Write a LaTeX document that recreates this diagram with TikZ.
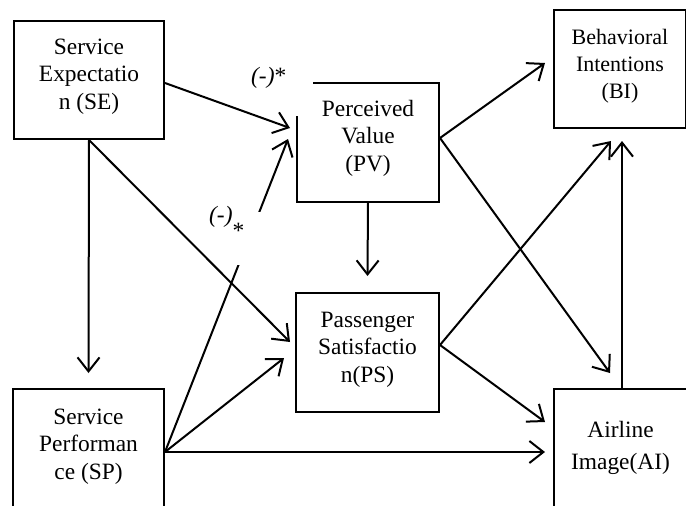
\documentclass[tikz,border=0pt]{standalone}
\usepackage{fontspec}
\setmainfont{Liberation Serif}
\usetikzlibrary{arrows.meta}
\newcommand\boxtxt[4]{\parbox[c][#1][t]{#2}{\centering\rule{0pt}{#3}#4}}
\begin{document}
\begin{tikzpicture}[x=1pt,y=-1pt,
  box/.style={draw, line width=2pt, inner sep=0pt, anchor=north west, font=\fontsize{23.4}{27.5}\selectfont},
  conn/.style={line width=2pt, -{Straight Barb[length=14pt,width=22pt,line width=2pt]}},
  lbl/.style={font=\fontsize{23.4}{27.5}\selectfont, inner sep=0pt, anchor=base west}]
\useasboundingbox (0,0) rectangle (686,506);
% boxes
\node[box] (SE) at (13,20) {\boxtxt{118pt}{150pt}{33pt}{Service\\Expectatio\\n (SE)}};
\node[box] (PV) at (296,82) {\boxtxt{119pt}{142pt}{33pt}{Perceived\\Value\\(PV)}};
\node[box, font=\fontsize{22}{27}\selectfont] (BI) at (553,9) {\boxtxt{118pt}{132pt}{34pt}{Behavioral\\Intentions\\(BI)}};
\node[box] (PS) at (295,292) {\boxtxt{119pt}{143pt}{34pt}{Passenger\\Satisfactio\\n(PS)}};
\node[box] (SP) at (12,388) {\boxtxt{140pt}{151pt}{35pt}{Service\\Performan\\ce (SP)}};
\node[box, font=\fontsize{23.4}{32}\selectfont] (AI) at (553,388) {\boxtxt{140pt}{133pt}{48pt}{Airline\\Image(AI)}};
% connector that is partly hidden by the lower label
\draw[conn] ([yshift=-64pt]SP.north east) -- ([xshift=-8pt,yshift=-57pt]PV.north west);
% labels with white backgrounds
\fill[white] (240,50) rectangle (313,116);
\node[lbl] (m1) at (251,83) {\textit{(-)}*};
\fill[white] (200,212) rectangle (262,265);
\node[lbl] (m2) at (209,222) {\textit{(-)}\raisebox{-16pt}{*}};
% connectors
\draw[conn] ([yshift=-63pt]SE.north east) -- ([xshift=-6pt,yshift=-46pt]PV.north west);
\draw[conn] (SE.south) -- ([yshift=15pt]SP.north);
\draw[conn] (SE.south) -- ([xshift=-5pt,yshift=-50pt]PS.north west);
\draw[conn] ([yshift=-64pt]SP.north east) -- ([xshift=-11pt,yshift=-66pt]PS.north west);
\draw[conn] ([yshift=-64pt]SP.north east) -- ([xshift=-8pt,yshift=-64pt]AI.north west);
\draw[conn] (PV.south) -- ([yshift=16pt]PS.north);
\draw[conn] ([yshift=-56pt]PV.north east) -- ([xshift=-8pt,yshift=-54pt]BI.north west);
\draw[conn] ([yshift=-56pt]PV.north east) -- ([xshift=57pt,yshift=15pt]AI.north west);
\draw[conn] ([yshift=-53pt]PS.north east) -- ([xshift=58pt,yshift=-12pt]BI.south west);
\draw[conn] ([yshift=-53pt]PS.north east) -- ([xshift=-8pt,yshift=-34pt]AI.north west);
\draw[conn] ([xshift=69pt]AI.north west) -- ([xshift=69pt,yshift=-12pt]BI.south west);
\end{tikzpicture}
\end{document}
